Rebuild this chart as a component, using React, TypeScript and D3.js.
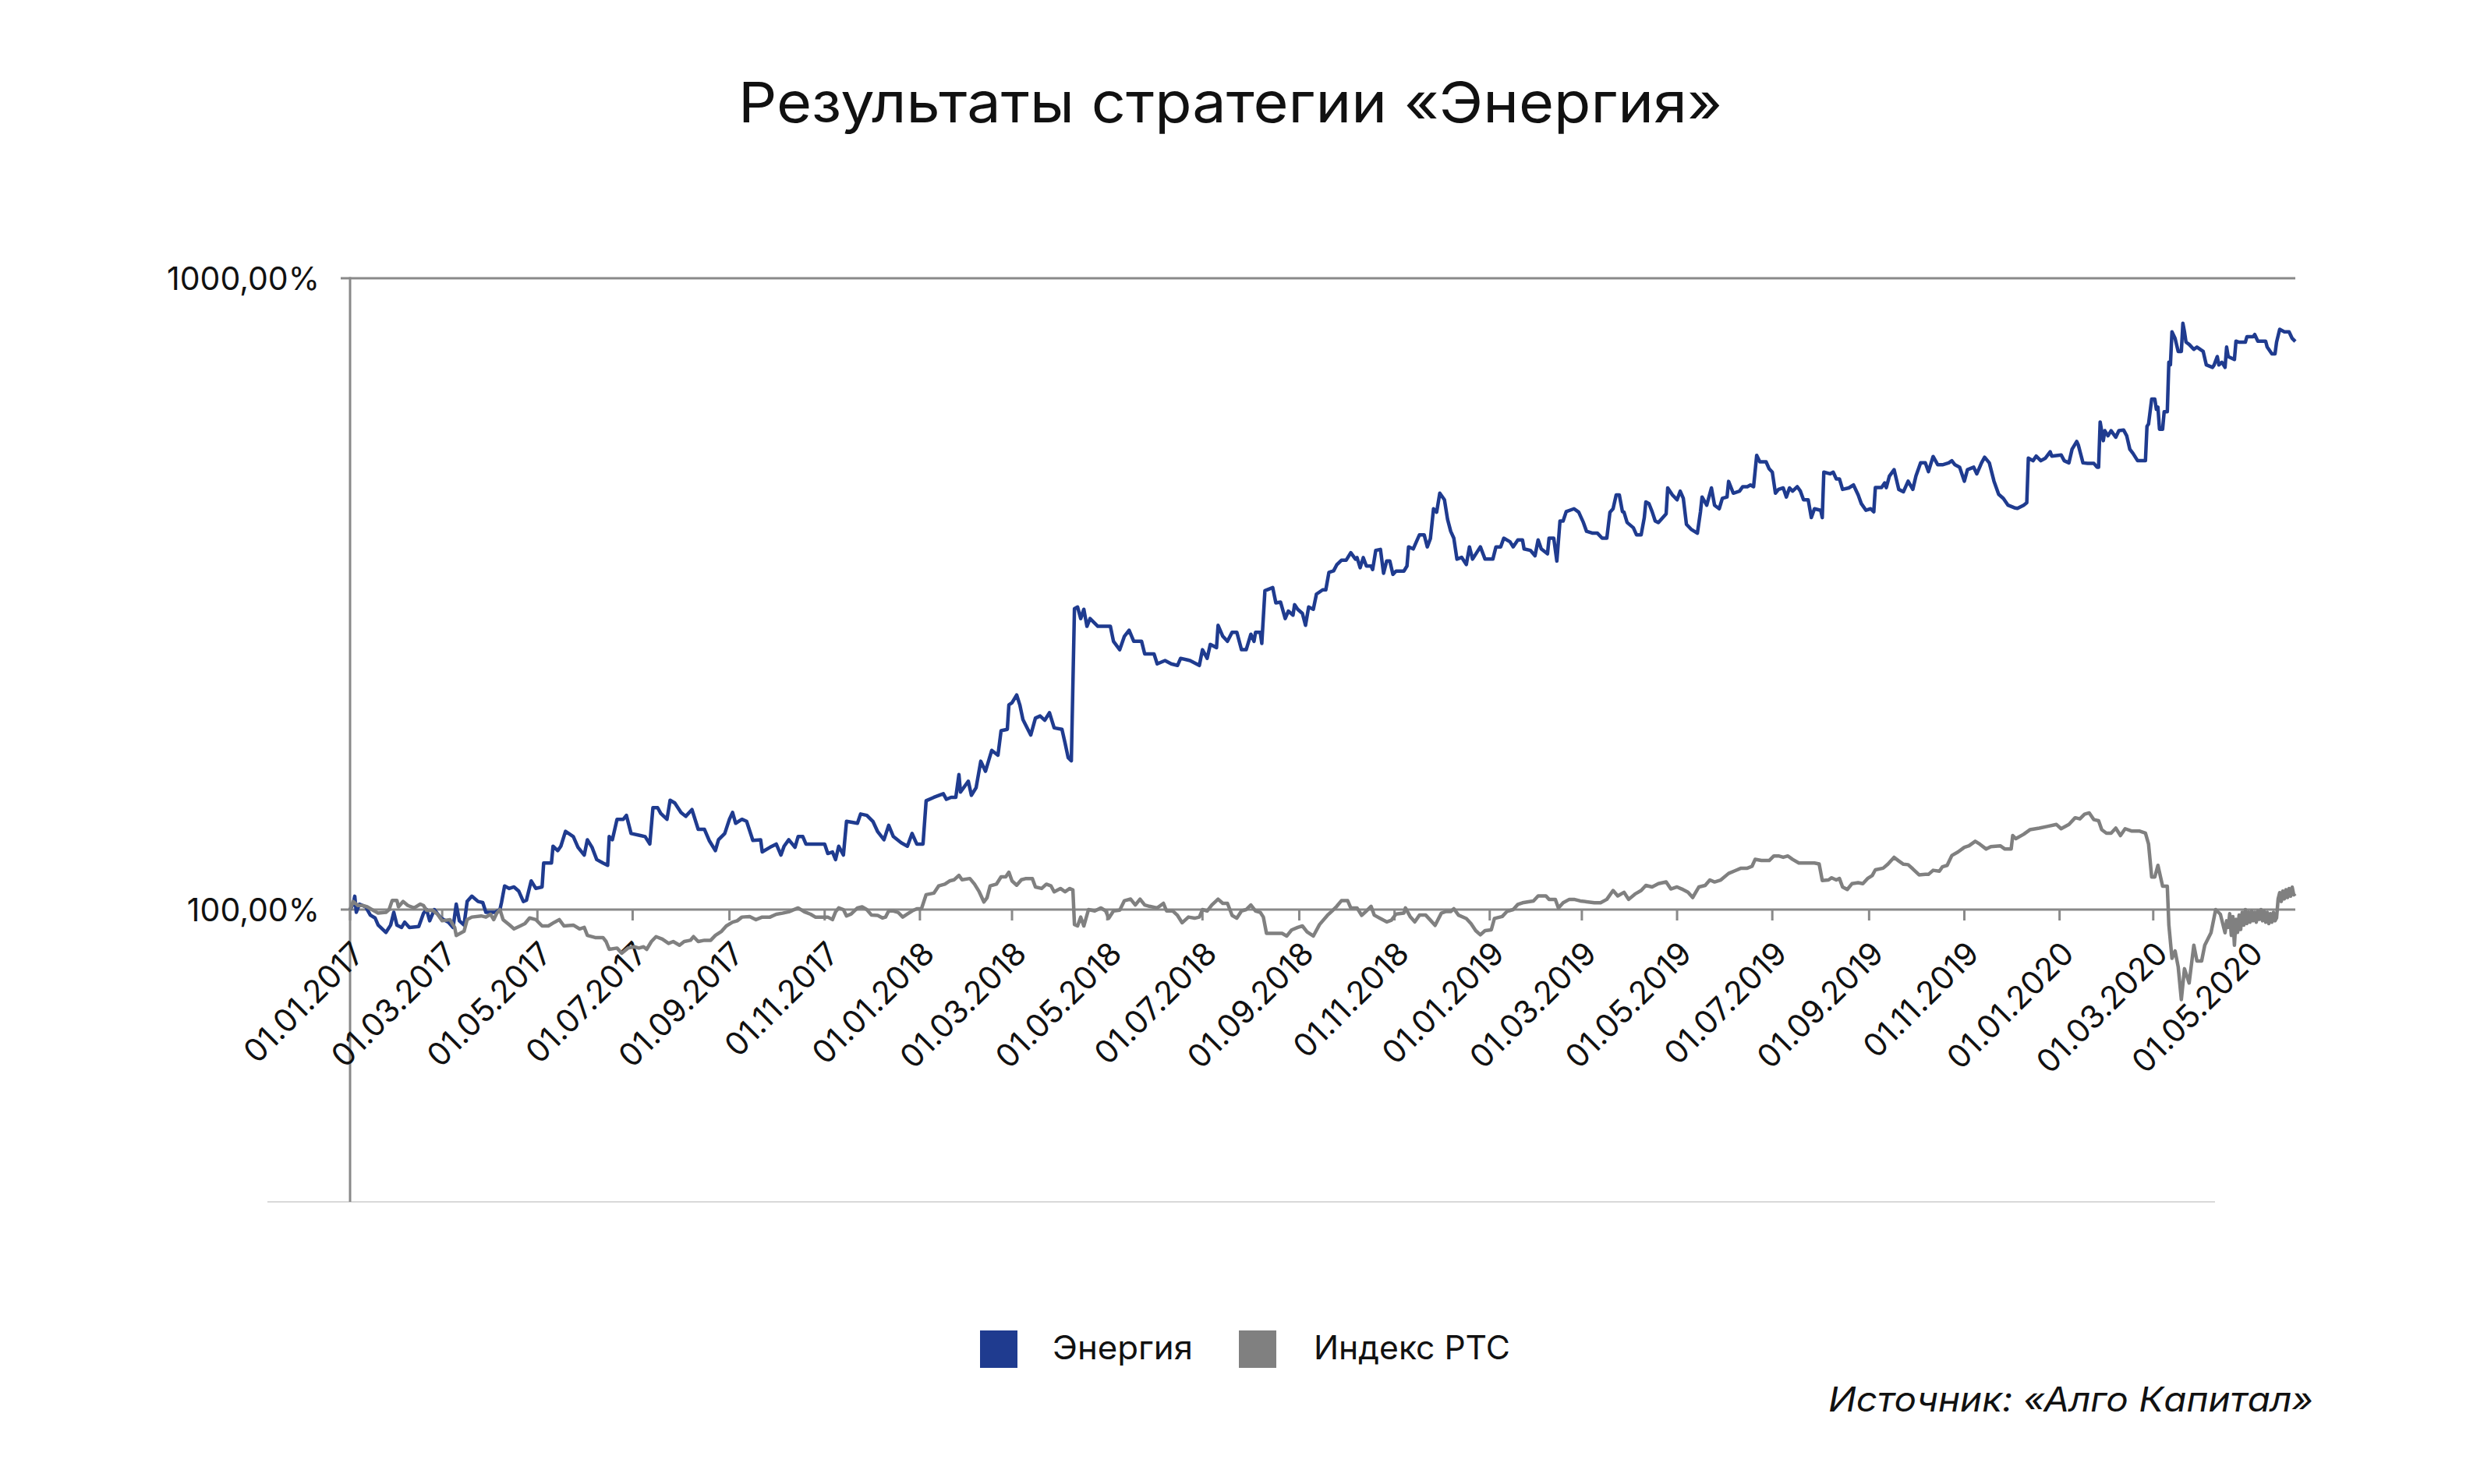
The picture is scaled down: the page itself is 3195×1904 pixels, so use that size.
import React from 'react';
import * as d3 from 'd3';

// ---------- data ----------
const TITLE = 'Результаты стратегии «Энергия»';
const SOURCE = 'Источник: «Алго Капитал»';
const seriesNames = ['Энергия', 'Индекс РТС'];
const seriesColors = ['#1f3b8f', '#808080'];
const startDate = '01.01.2017';
const endDay = 1246; // days after start at the right end of the axis

const xTickLabels = [
  '01.01.2017', '01.03.2017', '01.05.2017', '01.07.2017', '01.09.2017', '01.11.2017',
  '01.01.2018', '01.03.2018', '01.05.2018', '01.07.2018', '01.09.2018', '01.11.2018',
  '01.01.2019', '01.03.2019', '01.05.2019', '01.07.2019', '01.09.2019', '01.11.2019',
  '01.01.2020', '01.03.2020', '01.05.2020',
];
const yTickValues = [100, 1000];
const yTickLabels = ['100,00%', '1000,00%'];

// [days since 01.01.2017, value in %]
const energy: [number, number][] = [
  [0,100],[2,102],[3,105],[4,99],[6,102],[10,101],[13,98],[16,97],[18,94.5],[23,92],[26,94.5],[28,99],[30,94.5],[33,93.7],[35,95.5],[38,93.7],[44,94],[47,98.6],[49,100],[51,96],[54,100],[58,97],[63,95.5],[66,93.7],[68,102],[70,96],[73,94.5],[75,103],[78,105],[82,103],[85,102.6],[87,99],[93,99],[96,100],[97,102.6],[99,109],[102,108],[105,108.6],[108,107],[111,103],[113,103.5],[116,111],[119,108],[123,108.6],[124,118.5],[129,118.5],[130,126],[133,124],[135,126],[138,133],[143,130.5],[146,125.5],[150,122],[152,129],[155,125.5],[158,120],[162,118.5],[165,117.5],[166,130.5],[168,129],[171,139],[175,139],[177,141],[180,132],[186,131],[189,130.5],[192,127],[194,145],[197,145],[199,142],[203,139],[205,149],[208,147.5],[212,142.5],[215,140.5],[219,144],[223,134],[227,134],[230,128.7],[234,124],[236,129],[240,132],[243,139],[245,142.5],[247,137],[251,139],[254,138],[258,128.7],[263,129],[264,123.4],[269,125.5],[273,127],[276,122],[278,126],[281,129],[285,125.5],[287,130.5],[290,130.5],[292,127],[298,127],[304,127],[306,122.7],[309,123.4],[311,120],[313,126],[316,122],[318,138],
  [325,137],[327,141.7],[331,141],[335,137.8],[338,132.8],[342,129],[345,136],[348,130.5],[353,127.6],[357,126],[360,132],[363,127],[367,127],[369,148.7],[374,150.6],[380,152.6],[382,149.5],[385,150.6],[388,150.6],[390,163.6],[391,153.5],[396,159.7],[398,151.7],[401,156],[404,171.8],[407,165.6],[411,178.7],[415,175.6],[417,192],[421,193],[422,211],[424,212.6],[427,218.7],[429,211],[431,200],[436,189],[439,201],[442,202.6],[445,199.5],[448,205],[451,194],[456,193],[458,183.5],[460,174],[462,172],[464,299.6],[466,301.5],[468,289],[470,299],[472,281],[474,289],[479,281],[487,281],[489,266],[493,258],[496,271],[499,277],[502,266],[507,266],[509,254],[515,254],[517,245],[522,248],[526,245],[530,243.6],[532,250],[538,248],[544,243.6],[546,258],[549,250],[551,263],[555,260],[556,282],[559,271],[562,266],[565,275],[568,275],[571,258],[574,258],[577,273],[579,266],[580,275],[583,275],[584,264],[586,320],[591,323.6],[593,306],[596,307],[599,289],[601,297],[604,292.7],[605,304],[607,299],[610,294.5],[612,282],[614,301.5],[617,299],[619,316],[623,321],[625,321],[627,342],[630,344],[632,351.6],[635,357.5],[638,357.5],[641,367.5],[644,359],
  [645,361],[647,348],[649,361],[651,350],[654,350],[655,345.6],[657,370.7],[660,372],[662,341],[664,356.7],[666,356.7],[668,339.6],[670,343.6],[675,343.6],[677,350],[678,375.4],[681,372.6],[683,382.4],[685,392.3],[688,392.3],[690,375.4],[692,387],[694,431.4],[696,426],[698,456.6],[701,445.7],[703,415],[705,397.4],[707,387.5],[709,359],[712,361.4],[715,352],[717,375.4],[719,359],[724,375.4],[727,359],[732,359],[734,375.4],[737,375.4],[739,387.5],[743,382.4],[745,375.4],[748,385],[751,385],[752,372.6],[756,370.7],[759,363.5],[761,385],[763,372.6],[767,366],[768,387.5],[771,387.5],[773,356.5],[775,412.6],[777,412.6],[779,427],[784,431.4],[787,426],[790,410.3],[792,397.4],[796,394.6],[799,394.6],[802,387.5],[805,387.5],[807,426],[809,431.4],[811,453.7],[813,453.7],[815,427],[816,426],[818,410.3],[822,402.5],[824,392.3],[827,392.3],[829,417.7],[830,442.4],[832,439.4],[834,427],[836,412.6],[838,410.3],[843,423.6],[844,465.5],[847,453.7],[850,445.7],[852,460],[854,448],[856,407.6],[859,400.3],[863,394.6],[865,427],[866,450.3],[869,437],[872,465.5],[874,437],[877,431.4],[879,448],[882,450.3],[883,476.7],[886,456.6],[890,460],[892,467.5],[895,467.5],[897,470.5],[899,467.5],[901,524],[903,512],[907,512],[909,499],[911,493],[913,456.6],[915,463],[918,465.5],[920,450.3],[922,465.5],[924,460],[927,467.5],[929,460],[931,445.7],[934,445.7],[936,417.7],[938,431.4],[942,429],[943,417.7],[944,493],[948,490],[950,493],[952,481],[954,481],[956,463],[960,465.5],[963,470.5],[966,453.7],[968,439.6],[971,429],[974,431.4],
  [976,426.5],[977,466],[981,466],[983,474],[984,466],[986,486],[989,497.5],[992,463],[995,459],[998,477],[1001,463],[1003,486],[1006,510],[1009,510],[1011,494],[1014,522],[1017,506.5],[1020,506.5],[1024,510],[1026,514],[1028,506.5],[1031,502],[1034,477],[1036,497.5],[1040,502],[1042,490],[1045,510],[1047,520.6],[1050,510],[1053,477],[1056,454.6],[1059,448],[1062,437],[1066,433],[1068,432],[1072,437],[1074,441],[1075,519],[1078,514],[1080,522.7],[1083,514],[1086,519],[1089,531],[1090,522.7],[1096,525],[1098,514],[1101,510],[1103,536],[1106,551.5],[1107,544.4],[1110,510],[1113,509],[1117,509],[1119,502],[1120,502],[1121,592],[1123,553],[1124,573.5],[1126,563],[1128,573.5],[1131,560],[1133,573.5],[1136,575],[1138,563],[1140,536],[1142,528],[1145,514],[1150,514],[1151,582.6],[1152,587.6],[1154,643.6],[1156,643.6],[1157,620],[1158,625],[1159,576.6],[1161,576.6],[1162,614.5],[1164,614.5],[1165,736],[1166,729],[1167,822.6],[1169,803],[1171,765.6],[1173,765.6],[1174,848.5],[1175,822.6],[1176,792],[1178,785.6],[1181,771.5],[1183,778],[1187,765.6],[1189,729],[1193,722.5],[1194,729],[1196,751.6],[1197,729],[1199,736],[1201,722.5],[1202,778],[1203,751.6],[1207,743.6],[1208,795],[1210,792],[1214,792],[1215,808],[1219,808],[1220,814.5],[1222,795],[1227,795],[1228,778],[1231,759],[1233,759],[1234,792],[1236,830],[1239,822.6],[1242,822.6],[1244,803],[1246,794],
];

const rts: [number, number][] = [
  [0,100],[2,103],[5,101.5],[8,101.5],[11,101],[14,100],[18,98.7],[23,99],[25,100],[27,103.4],[30,103.4],[31,101],[34,103],[37,101.5],[41,100.6],[45,102],[47,101.5],[49,99.7],[53,99.7],[56,98.3],[59,96],[64,96.4],[67,93.7],[68,91],[73,92.4],[75,96.4],[78,97.3],[84,97.7],[87,97.3],[90,98.3],[92,96.4],[94,98.7],[96,100],[98,96.4],[102,94.6],[105,93.2],[109,94.2],[112,95],[115,97],[119,96.4],[123,94.2],[127,94.2],[131,95.5],[134,96.4],[137,94.2],[143,94.5],[147,93.2],[150,93.7],[152,91],[157,90.3],[162,90.3],[164,89],[166,86.5],[171,86.9],[174,85.3],[178,86.9],[182,87.3],[185,86.9],[188,87.3],[190,86.5],[193,89],[196,90.6],[200,89.8],[204,88.4],[207,89],[211,87.8],[214,89],[218,89.4],[220,90.6],[223,89],[227,89.4],[231,89.4],[234,91],[238,92.4],[241,94.2],[245,95.5],[248,96],[251,97.3],[256,97.5],[260,96.4],[264,97.3],[269,97.3],[273,98.3],[277,98.7],[281,99.2],[287,100.6],[291,99.2],[295,98.3],[298,97.3],[302,97.3],[306,97.3],[309,96.4],[311,99.2],[313,100.6],[316,100],[318,97.7],[321,98.4],
  [325,100.6],[328,101],[331,100],[334,98],[338,97.9],[341,97],[343,97.3],[345,99.5],[348,99.5],[351,99],[354,97.3],[357,98.4],[360,99.5],[363,100.3],[366,100.3],[369,105.6],[374,106.2],[377,109],[381,109.7],[384,111],[387,111.5],[390,113.3],[392,111.5],[397,112],[400,109.7],[403,106.7],[406,102.8],[408,104.4],[410,109],[414,109.7],[417,112.7],[420,112.7],[422,114.6],[424,111],[427,109.3],[430,111.5],[433,112],[437,112],[439,108.6],[443,108],[446,109.7],[449,109],[451,106.7],[455,108],[458,106.7],[461,108],[463,107.4],[464,94.7],[466,94.2],[468,97.3],[470,94.2],[473,100],[477,99.5],[481,100.6],[484,99.5],[486,96.9],[489,99.5],[493,99.8],[496,103.3],[500,103.9],[503,101.7],[506,103.9],[509,101.7],[512,101.2],[517,100.6],[521,102.3],[523,99.5],[527,99.5],[530,97.9],[533,95.3],[537,97.3],[541,96.9],[544,97.3],[546,100],[549,99.5],[552,101.7],[556,103.9],[559,102.3],[562,102.3],[565,97.9],[568,96.9],[571,99.5],[574,100],[577,101.7],[580,99.5],[583,99],[585,97.3],[587,91.7],[591,91.7],[594,91.7],[597,91.7],[600,90.8],[603,92.8],[607,93.7],[610,94.2],[613,92.2],[617,90.8],[621,94.7],[626,97.9],[629,99.5],[632,101.2],[635,103.3],[639,103.3],[641,100.6],[645,100.6],[648,97.9],[651,99.5],[654,101.2],
  [656,98],[660,96.8],[664,95.6],[667,96.2],[670,98.4],[675,98.7],[676,100.6],[679,97.5],[682,95.6],[685,98],[689,98],[692,96.2],[695,94.4],[699,98.7],[702,99.3],[705,99.3],[707,100.3],[710,98],[715,96.8],[718,95],[721,92.6],[724,91.2],[727,92.6],[731,92.9],[733,96.8],[738,97.5],[741,99.3],[745,100],[748,101.9],[751,102.5],[754,102.8],[758,103.2],[761,105.1],[766,105.1],[768,103.8],[772,103.8],[774,100.6],[777,102.5],[781,103.8],[784,103.8],[788,103.2],[792,102.9],[797,102.5],[801,102.5],[805,103.8],[809,107.2],[812,105.1],[816,106.5],[819,103.8],[823,105.8],[827,107.2],[830,109.2],[834,108.6],[838,109.9],[843,110.6],[846,107.8],[850,108.6],[853,107.8],[857,106.5],[860,104.5],[864,108.6],[868,109.2],[871,111.4],[874,110.6],[878,111.4],[883,114.1],[887,115.2],[891,116.3],[895,116.3],[898,117.1],[900,120.1],[904,119.6],[909,119.6],[912,121.6],[915,121.6],[918,121],[921,121.6],[924,120.1],[928,118.5],[933,118.5],[938,118.5],[941,118.1],[943,111.2],[947,111.4],[949,112.3],[952,111.4],[954,112],[956,108.6],[959,107.6],[962,109.9],[966,110.3],[969,109.9],[972,112],
  [975,113.2],[977,115.6],[982,116.3],[985,118],[989,121],[992,119.4],[995,118],[998,117.8],[1001,116],[1005,113.5],[1009,113.7],[1011,113.7],[1014,115.4],[1018,115],[1020,116.9],[1023,117.5],[1026,121.8],[1030,123.4],[1034,125.5],[1037,126.2],[1041,128.3],[1044,126.9],[1048,124.7],[1051,125.8],[1057,126.2],[1060,124.7],[1064,124.7],[1065,131],[1067,129.5],[1072,131.6],[1076,133.8],[1082,134.6],[1087,135.4],[1093,136.4],[1096,134.3],[1101,136.4],[1105,139.8],[1108,139.2],[1111,141.6],[1114,142.3],[1117,138.8],[1120,138.3],[1122,133.8],[1125,132.1],[1128,132.1],[1131,134.6],[1134,131],[1137,134.3],[1141,133.2],[1146,133.2],[1150,132.2],[1152,127],[1154,112.6],[1156,112.6],[1158,117.5],[1161,108.9],[1164,108.9],[1165,94.6],[1167,83.7],[1169,86],[1171,81.1],[1173,72],[1175,80.6],[1178,76.5],[1181,87.8],[1183,82.9],[1186,82.9],[1188,87.8],[1192,91.9],[1195,100],[1198,98.3],[1201,91.9],
  [1202,96],[1203,93.7],[1204,98.5],[1205,91],[1206,97.5],[1207,87.8],[1208,96.5],[1209,92],[1210,98],[1211,93],[1212,99],[1213,94.5],[1214,100],[1215,95],[1216,99],[1217,95.5],[1218,99.5],[1219,96],[1220,99],[1221,95.5],[1222,99.5],[1223,96.5],[1224,100],[1225,96],[1226,99.5],[1227,95.5],[1228,99],[1229,95],[1230,98.5],[1231,95.5],[1232,99],[1233,96],[1234,97],[1235,104],[1236,106.4],[1237,103],[1238,107],[1239,104],[1240,107.5],[1241,104.5],[1242,108],[1243,105],[1244,108.5],[1245,105.5],[1246,106],
];

// ---------- component ----------
export default function App() {
  const W = 3195;
  const H = 1904;
  const FONT = 'Inter, "Noto Sans", sans-serif';
  const AXIS = '#898989';

  const parse = d3.timeParse('%d.%m.%Y');
  const t0 = parse(startDate) as Date;
  const toDate = (d: number) => d3.timeDay.offset(t0, d);

  const plotLeft = 449;
  const plotRight = 2944;
  const plotTop = 357;
  const plotBottom = 1542;

  const x = d3.scaleTime().domain([t0, toDate(endDay)]).range([plotLeft, plotRight]);
  const y = d3.scaleLog().domain([100, 1000]).range([1167, plotTop]);

  const line = d3
    .line<[number, number]>()
    .x((d) => x(toDate(d[0])))
    .y((d) => y(d[1]));

  const axisY = y(100);
  const tickDates = xTickLabels.map((s) => parse(s) as Date);

  return (
    <div style={{ position: 'absolute', left: 0, top: 0, width: W, height: H, overflow: 'hidden', background: '#fff' }}>
      <svg width={W} height={H} style={{ display: 'block' }} fontFamily={FONT}>
        <rect x={0} y={0} width={W} height={H} fill="#fff" />

        {/* title */}
        <text x={1578} y={157} textAnchor="middle" fontSize={72} fill="#111" textLength={1262} lengthAdjust="spacingAndGlyphs">
          {TITLE}
        </text>

        {/* bottom border line of the plot area */}
        <line x1={343} x2={2841} y1={plotBottom} y2={plotBottom} stroke="#d9d9d9" strokeWidth={2} />

        {/* top gridline (1000%) and y ticks */}
        {yTickValues.map((v, i) => (
          <g key={'yt' + i}>
            <line x1={437} x2={i === 1 ? plotRight : plotLeft} y1={y(v)} y2={y(v)} stroke={AXIS} strokeWidth={3} />
            <text x={410} y={y(v) + 14.5} textAnchor="end" fontSize={41} fill="#111">
              {yTickLabels[i]}
            </text>
          </g>
        ))}

        {/* vertical axis */}
        <line x1={plotLeft} x2={plotLeft} y1={plotTop - 1.5} y2={plotBottom} stroke={AXIS} strokeWidth={3} />

        {/* horizontal axis at 100% */}
        <line x1={plotLeft} x2={plotRight} y1={axisY} y2={axisY} stroke={AXIS} strokeWidth={3} />
        {tickDates.map((d, i) => (
          <g key={'xt' + i}>
            <line x1={x(d)} x2={x(d)} y1={axisY} y2={axisY + 14} stroke={AXIS} strokeWidth={3} />
            <text
              transform={`translate(${x(d) + 21},${axisY + 59}) rotate(-45)`}
              textAnchor="end"
              fontSize={41}
              fill="#111"
            >
              {xTickLabels[i]}
            </text>
          </g>
        ))}

        {/* series */}
        <path d={line(energy) || ''} fill="none" stroke={seriesColors[0]} strokeWidth={4.5} strokeLinejoin="round" />
        <path d={line(rts) || ''} fill="none" stroke={seriesColors[1]} strokeWidth={4.5} strokeLinejoin="round" />

        {/* legend */}
        <rect x={1257} y={1707} width={48} height={48} fill={seriesColors[0]} />
        <text x={1350} y={1744} fontSize={42} fill="#111" textLength={180} lengthAdjust="spacingAndGlyphs">
          {seriesNames[0]}
        </text>
        <rect x={1589} y={1707} width={48} height={48} fill={seriesColors[1]} />
        <text x={1685} y={1744} fontSize={42} fill="#111" textLength={252} lengthAdjust="spacingAndGlyphs">
          {seriesNames[1]}
        </text>

        {/* source */}
        <text x={2967} y={1811} textAnchor="end" fontSize={44} fontStyle="italic" fill="#111" textLength={622} lengthAdjust="spacingAndGlyphs">
          {SOURCE}
        </text>
      </svg>
    </div>
  );
}
